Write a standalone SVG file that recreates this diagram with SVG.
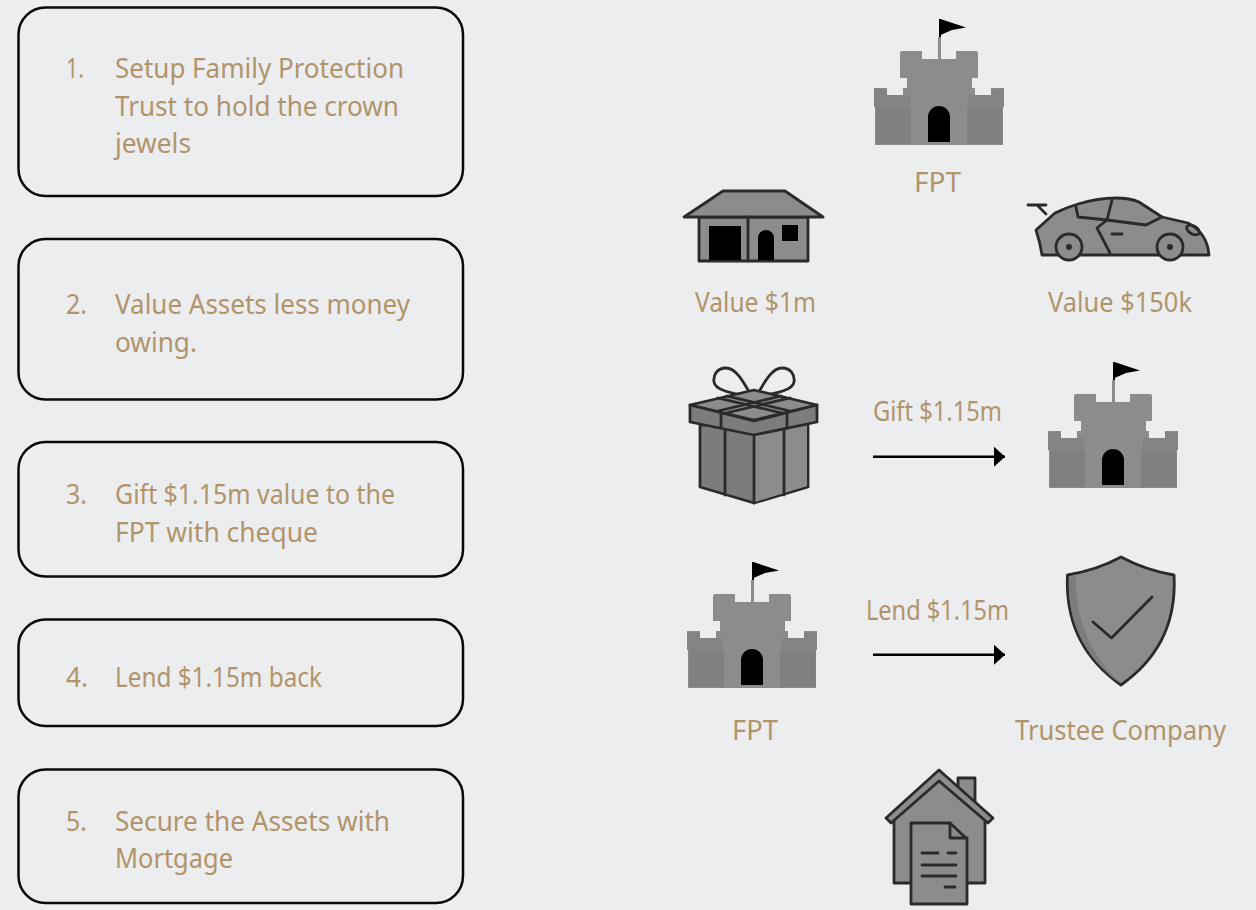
<svg xmlns="http://www.w3.org/2000/svg" width="1256" height="910" viewBox="0 0 1256 910">
<style>
.box{fill:none;stroke:#0a0a0a;stroke-width:2.5}
text{font-family:"Noto Sans","Liberation Sans",sans-serif;font-size:27px;font-weight:400;fill:#b2946a}
.m{text-anchor:middle}
.ln{stroke:#2a2a2a;fill:none;stroke-width:2.800;stroke-linejoin:round;stroke-linecap:round}
.o{stroke:#2a2a2a;stroke-width:2.800;stroke-linejoin:round}
.g{fill:#8c8c8c}
.d{fill:#7c7c7c}
.k{fill:#000}
.icon{filter:url(#soft)}
.arrow{stroke:#000;stroke-width:2.500;fill:none;marker-end:url(#head)}
</style>
<defs>
<filter id="soft" x="-10%" y="-10%" width="120%" height="120%"><feGaussianBlur stdDeviation="0.6"/></filter>
<marker id="head" markerUnits="userSpaceOnUse" markerWidth="12" markerHeight="20" refX="11" refY="10" orient="auto"><path d="M0 0L11 10L0 20Z" fill="#000"/></marker>
<g id="castle">
<path class="g" d="M64 20H67V44H64Z"/>
<path class="k" d="M66.500 2L92 10.500L78 13L66.500 18Z"/>
<path class="k" d="M65 2H67V20H65Z"/>
<path class="g" d="M26 36Q26 34 28 34H48V42H82V34H102Q104 34 104 36V61H98V71H101V78H117V71H130V90H129V128H1V90H0V71H13V78H29V71H33V61H26Z"/>
<path fill="#848484" d="M0 72V90H1V91H36V78H29V72V78H13V72ZM130 72V90H129V91H94V78H101H117V72Z"/>
<path fill="#808080" d="M2 91H37V127H2ZM93 91H128.500V127H93Z"/>
<path class="k" d="M54 125V100A11 11 0 0 1 76 100V125Z"/>
</g>
</defs>
<rect width="1256" height="910" fill="#ecedef"/>

<g id="step1"><rect class="box" x="18.500" y="7.500" width="444.500" height="188.500" rx="27"/>
<text x="66" y="78" textLength="18" lengthAdjust="spacingAndGlyphs">1.</text><text x="115" y="78" textLength="289" lengthAdjust="spacingAndGlyphs">Setup Family Protection</text><text x="115" y="116" textLength="284" lengthAdjust="spacingAndGlyphs">Trust to hold the crown</text><text x="115" y="153" textLength="76" lengthAdjust="spacingAndGlyphs">jewels</text></g>
<g id="step2"><rect class="box" x="18.500" y="239" width="444.500" height="160.500" rx="27"/>
<text x="66" y="314" textLength="21" lengthAdjust="spacingAndGlyphs">2.</text><text x="115" y="314" textLength="295" lengthAdjust="spacingAndGlyphs">Value Assets less money</text><text x="115" y="352" textLength="82" lengthAdjust="spacingAndGlyphs">owing.</text></g>
<g id="step3"><rect class="box" x="18.500" y="442" width="444.500" height="134.500" rx="27"/>
<text x="66" y="504" textLength="21" lengthAdjust="spacingAndGlyphs">3.</text><text x="115" y="504" textLength="280" lengthAdjust="spacingAndGlyphs">Gift $1.15m value to the</text><text x="115" y="542" textLength="203" lengthAdjust="spacingAndGlyphs">FPT with cheque</text></g>
<g id="step4"><rect class="box" x="18.500" y="619.500" width="444.500" height="106.500" rx="27"/>
<text x="66" y="687" textLength="22" lengthAdjust="spacingAndGlyphs">4.</text><text x="115" y="687" textLength="207" lengthAdjust="spacingAndGlyphs">Lend $1.15m back</text></g>
<g id="step5"><rect class="box" x="18.500" y="769.500" width="444.500" height="133.500" rx="27"/>
<text x="66" y="831" textLength="21" lengthAdjust="spacingAndGlyphs">5.</text><text x="115" y="831" textLength="275" lengthAdjust="spacingAndGlyphs">Secure the Assets with</text><text x="115" y="868" textLength="118" lengthAdjust="spacingAndGlyphs">Mortgage</text></g>

<g id="fpt-top"><use class="icon" href="#castle" x="874" y="17"/><text class="m" x="937.500" y="192" textLength="47" lengthAdjust="spacingAndGlyphs">FPT</text></g>

<g id="house"><g class="icon">
<path class="g o" d="M699 217H808V261H699Z"/>
<path class="g o" d="M723 191H785L823 217H684Z"/>
<path class="ln" d="M748 217V261"/>
<path class="k" d="M709 226H741V260H709ZM758 260V238A8 8 0 0 1 774 238V260ZM782 225H798V241H782Z"/>
</g><text class="m" x="755.500" y="312" textLength="121" lengthAdjust="spacingAndGlyphs">Value $1m</text></g>

<g id="car"><g class="icon">
<path class="g o" d="M1036 230L1055 213Q1065 208 1078 204Q1098 198 1116 198Q1130 198 1139 202L1162 217L1188 223Q1198 228 1203.500 237Q1208 244 1209 255H1042Q1040 242 1036 230Z"/>
<path class="ln" d="M1028 205H1046M1037 205L1046 214"/>
<path class="ln" d="M1076 207L1078 217L1107 220L1112 200"/>
<path class="ln" d="M1107 220L1146 225L1162 217M1107 220L1097 228L1110 253M1112 234H1122"/>
<ellipse class="ln" cx="1193" cy="230" rx="7" ry="4" transform="rotate(30 1193 230)"/>
<circle class="g o" cx="1069" cy="247" r="13"/><circle cx="1069" cy="247" r="3" fill="#2a2a2a"/>
<circle class="g o" cx="1170" cy="247" r="13"/><circle cx="1170" cy="247" r="3" fill="#2a2a2a"/>
</g><text class="m" x="1120" y="312" textLength="144" lengthAdjust="spacingAndGlyphs">Value $150k</text></g>

<g id="gift"><g class="icon">
<path class="ln" d="M752 397C745 385 737 368 726 368C717 368 713 375 714 382C715 390 730 393 752 397M756 397C763 385 771 368 782 368C791 368 795 375 794 382C793 390 778 393 756 397"/>
<path class="d o" d="M700 425H808V487L754 503L700 487Z"/>
<path fill="#8c8c8c" d="M755 436L807 425V486L755 502Z"/>
<path class="g o" d="M690 405L754 390L817 405L754 420Z"/>
<path class="d o" d="M690 405L754 421L817 405V422L754 435L690 422Z"/>
<path class="ln" d="M721 413V428M787 413V428M725 431V495M784 431V495M754 435V503"/>
<path class="ln" stroke-width="2" d="M718 411L781 396M726 413L790 398M790 411L727 396M782 413L718 398"/>
</g></g>

<g id="fpt-gift"><use class="icon" href="#castle" x="1048" y="360"/></g>
<g id="fpt-lend"><use class="icon" href="#castle" x="687" y="560"/><text class="m" x="755" y="740" textLength="46" lengthAdjust="spacingAndGlyphs">FPT</text></g>

<g id="trustee"><g class="icon">
<path class="g o" d="M1121 557Q1145 570 1174 575Q1178 645 1121 685Q1064 645 1067.500 575Q1097 570 1121 557Z"/>
<path class="d" d="M1069 577L1076 576Q1074 640 1121 684Q1066 645 1069 577Z"/>
<path class="ln" d="M1093 622L1111.500 638L1152 597"/>
</g><text class="m" x="1120.500" y="740" textLength="211" lengthAdjust="spacingAndGlyphs">Trustee Company</text></g>

<g id="mortgage"><g class="icon">
<path class="g o" d="M958 778H975V805H958Z"/>
<path class="g o" d="M894 812L939 776L985 812V883H894Z"/>
<path class="g o" d="M886 818L939 770L993 818L988 823L939 781L891 823Z"/>
<path class="g o" d="M911 823H950L967 839V904H911Z"/>
<path class="ln" d="M950 823V838H967"/>
<path class="ln" stroke-width="3" d="M922 853H938M948 853H956M922 865H956M922 876H956M945 887H955"/>
</g></g>

<g id="connectors">
<path class="arrow" d="M873 456.700H1005"/>
<path class="arrow" d="M873 654.700H1005"/>
</g>
<text class="m" x="937.500" y="421" textLength="129" lengthAdjust="spacingAndGlyphs">Gift $1.15m</text>
<text class="m" x="937.500" y="620" textLength="143" lengthAdjust="spacingAndGlyphs">Lend $1.15m</text>
</svg>
